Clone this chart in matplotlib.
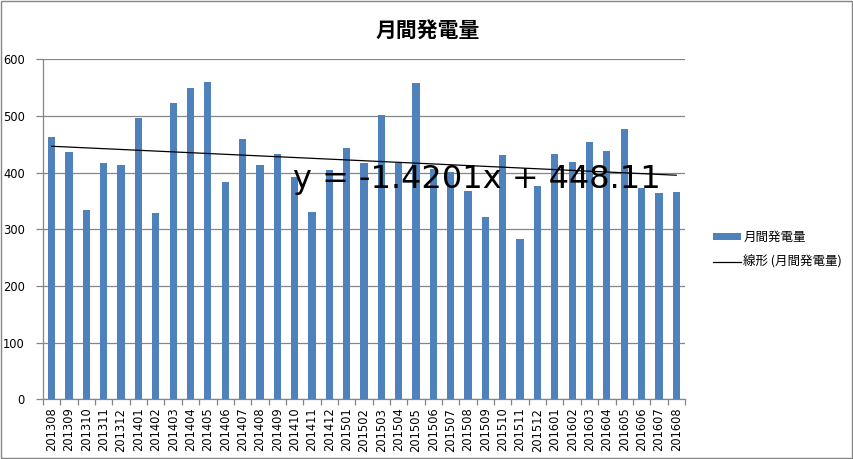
import matplotlib
matplotlib.use('Agg')
import matplotlib.pyplot as plt
import numpy as np
from matplotlib.patches import Rectangle

months = ['201308', '201309', '201310', '201311', '201312',
          '201401', '201402', '201403', '201404', '201405', '201406',
          '201407', '201408', '201409', '201410', '201411', '201412',
          '201501', '201502', '201503', '201504', '201505', '201506',
          '201507', '201508', '201509', '201510', '201511', '201512',
          '201601', '201602', '201603', '201604', '201605', '201606',
          '201607', '201608']
generation = [463, 436, 334, 417, 413,
              496, 329, 523, 549, 560, 383,
              459, 413, 433, 392, 330, 404,
              443, 417, 501, 417, 558, 407,
              402, 367, 322, 431, 283, 376,
              433, 419, 454, 438, 477, 373,
              364, 366]

# Excel linear trendline (x = 1..n)
trend_slope = -1.4201
trend_intercept = 448.11

cjk = ['Noto Sans CJK JP', 'DejaVu Sans']
bar_color = '#4F81BD'
grid_color = '#868686'

fig = plt.figure(figsize=(8.54, 4.59), dpi=100)
ax = fig.add_axes([0.0504, 0.130, 0.7516, 0.7406])

idx = np.arange(len(months))
bars = ax.bar(idx, generation, width=0.42, color=bar_color, label='月間発電量', zorder=2)

trend_x = np.array([0, len(months) - 1])
trend_y = trend_intercept + trend_slope * (trend_x + 1)
trend, = ax.plot(trend_x, trend_y, color='black', linewidth=0.9,
                 label='線形 (月間発電量)', zorder=3)

ax.text(13.9, 373, 'y = -1.4201x + 448.11', fontsize=23, va='baseline', ha='left',
        color='black', zorder=4)

ax.set_xlim(-0.5, len(months) - 0.5)
ax.set_ylim(0, 600)
ax.set_yticks(range(0, 601, 100))
ax.yaxis.grid(True, color=grid_color, linewidth=0.9, zorder=0)
ax.set_axisbelow(True)

ax.set_xticks(idx)
ax.set_xticklabels(months, rotation=90, fontsize=8.3)
ax.set_xticks(np.arange(-0.5, len(months)), minor=True)
ax.tick_params(axis='x', which='major', length=0, pad=6)
ax.tick_params(axis='x', which='minor', length=4, color=grid_color, width=0.9)
ax.tick_params(axis='y', length=5, color=grid_color, width=0.9, labelsize=8.3, pad=8)

for side in ['top', 'right']:
    ax.spines[side].set_visible(False)
for side in ['left', 'bottom']:
    ax.spines[side].set_color(grid_color)
    ax.spines[side].set_linewidth(0.9)

fig.text(0.501, 0.935, '月間発電量', ha='center', va='center', fontsize=15,
         fontweight='bold', family=cjk)

ax.legend([bars, trend], ['月間発電量', '線形 (月間発電量)'],
          loc='center left', bbox_to_anchor=(0.822, 0.456),
          bbox_transform=fig.transFigure, frameon=False,
          prop={'family': cjk, 'size': 9}, handlelength=2.2,
          handleheight=0.5, handletextpad=0.2, labelspacing=0.9)

fig.patches.append(Rectangle((0.001, 0.002), 0.997, 0.995, transform=fig.transFigure,
                             fill=False, edgecolor=grid_color, linewidth=1.0))

fig.savefig('out.png', dpi=100)
